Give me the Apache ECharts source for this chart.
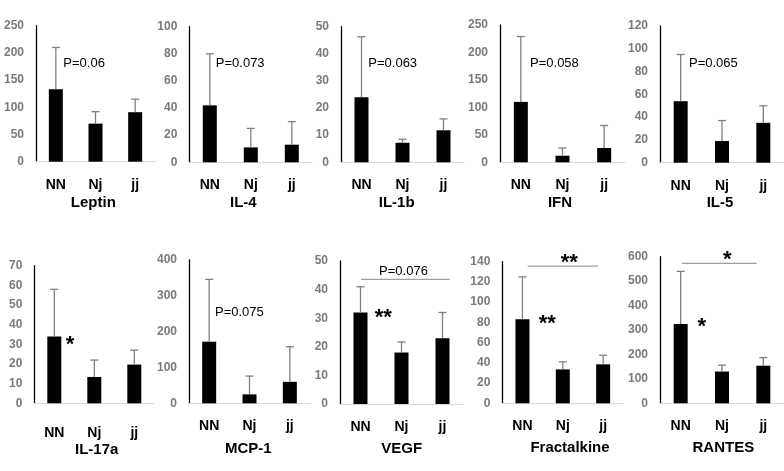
<!DOCTYPE html>
<html><head><meta charset="utf-8">
<script src="https://cdn.jsdelivr.net/npm/echarts@6/dist/echarts.min.js"></script>
<style>html,body{margin:0;padding:0;background:#fff}#c{width:784px;height:471px}</style>
</head><body><div id="c"></div>
<script>
// ---------- data ----------
const categories = ['NN', 'Nj', 'jj'];
const panelTitles = ['Leptin', 'IL-4', 'IL-1b', 'IFN', 'IL-5', 'IL-17a', 'MCP-1', 'VEGF', 'Fractalkine', 'RANTES'];
const leptinMean = [133, 70, 91],      leptinUpper = [210, 92, 115];
const il4Mean = [42, 11, 13],          il4Upper = [80, 25, 30];
const il1bMean = [24, 7.2, 11.8],      il1bUpper = [46.3, 8.5, 16];
const ifnMean = [110, 12, 26],         ifnUpper = [229, 26, 67];
const il5Mean = [54, 19, 35],          il5Upper = [95, 37, 50];
const il17aMean = [34, 13.4, 19.7],    il17aUpper = [58, 22, 27];
const mcp1Mean = [172, 25, 60],        mcp1Upper = [346, 76, 158];
const vegfMean = [32, 18, 23],         vegfUpper = [41, 21.7, 32];
const fractalkineMean = [83, 33.5, 38.5], fractalkineUpper = [125, 41, 47.5];
const rantesMean = [325, 130, 154],    rantesUpper = [540, 156, 187];
const yMax = [250, 100, 50, 250, 120, 70, 400, 50, 140, 600];
const yStep = [50, 20, 10, 50, 20, 10, 100, 10, 20, 100];
const noteTexts = ['P=0.06', 'P=0.073', 'P=0.063', 'P=0.058', 'P=0.065', '*', 'P=0.075', '**', '**', '*'];
const noteValues = [181, 73, 36.5, 180, 87, 32, 253, 31.7, 83, 334];
const bracketPanels = [7, 8, 9];
const bracketValues = [43.6, 135.7, 573];
const bracketTexts = ['P=0.076', '**', '*'];

const means = [leptinMean, il4Mean, il1bMean, ifnMean, il5Mean, il17aMean, mcp1Mean, vegfMean, fractalkineMean, rantesMean];
const uppers = [leptinUpper, il4Upper, il1bUpper, ifnUpper, il5Upper, il17aUpper, mcp1Upper, vegfUpper, fractalkineUpper, rantesUpper];

// ---------- layout / style ----------
const FONT = '"Liberation Sans", Arial, sans-serif';
const gridBox = [
  [36, 25.7, 119, 136], [189.3, 26.7, 123, 135.6], [341, 26.7, 123, 135.6], [500, 25, 125, 137.3], [660, 26, 124, 136.7],
  [34.3, 265.7, 120, 137.6], [189, 260, 121, 143.3], [340, 261, 123, 143], [502.3, 261.7, 121, 141.6], [660, 256.7, 124, 146.6]
];
const labelMargin = [16, 16, 16, 16, 16, 23, 16, 16, 16, 16];
const titlePos = [[93.3, 203], [243.3, 203], [396.7, 203], [560, 203], [720, 203],
                  [96.7, 450], [248.3, 449.3], [401.7, 449.3], [570, 448.3], [723.3, 448.3]];
const noteDx = [7.5, 6, 6.8, 9.2, 8.3, 15.7, 5.8, 22.8, 24.8, 21];
const bracketEnds = [[0.5, 7], [5.2, -4.8], [1, -6.6]];
const bracketTextDx = [2, 6.5, 5.3];
const STAR_SHIFT = 5;
const STAR_FONT = 'bold 22px ' + FONT;

const grids = [], xAxes = [], yAxes = [], series = [], graphics = [];
for (let i = 0; i < 10; i++) {
  const g = gridBox[i];
  grids.push({ left: g[0], top: g[1], width: g[2], height: g[3] });
  xAxes.push({
    type: 'category', gridIndex: i, data: categories,
    axisLine: { show: true, lineStyle: { color: '#d9d9d9', width: 1 } },
    axisTick: { show: false },
    axisLabel: { margin: labelMargin[i], color: '#000', fontWeight: 'bold', fontSize: 14, fontFamily: FONT }
  });
  yAxes.push({
    type: 'value', gridIndex: i, min: 0, max: yMax[i], interval: yStep[i],
    axisLine: { show: true, onZero: false, lineStyle: { color: '#000', width: 1.3 } },
    axisTick: { show: false }, splitLine: { show: false },
    axisLabel: { margin: 12, color: '#7a7a7a', fontWeight: 'bold', fontSize: 12, fontFamily: FONT }
  });
  series.push({
    type: 'bar', xAxisIndex: i, yAxisIndex: i, data: means[i], barWidth: 14,
    itemStyle: { color: '#000' }, silent: true, z: 2
  });
  series.push({
    type: 'custom', xAxisIndex: i, yAxisIndex: i, z: 3, silent: true,
    data: uppers[i].map((u, k) => [k, u, means[i][k]]),
    renderItem: function (params, api) {
      const top = api.coord([api.value(0), api.value(1)]);
      const bot = api.coord([api.value(0), api.value(2)]);
      const st = { stroke: '#808080', lineWidth: 1.3 };
      return { type: 'group', children: [
        { type: 'line', shape: { x1: top[0], y1: top[1], x2: bot[0], y2: bot[1] }, style: st },
        { type: 'line', shape: { x1: top[0] - 4, y1: top[1], x2: top[0] + 4, y2: top[1] }, style: st }
      ] };
    }
  });
  const isStar = noteTexts[i].indexOf('*') >= 0;
  series.push({
    type: 'custom', xAxisIndex: i, yAxisIndex: i, z: 4, silent: true,
    data: [[0, noteValues[i]]],
    renderItem: (function (idx, star) {
      return function (params, api) {
        const p = api.coord([api.value(0), api.value(1)]);
        return { type: 'text', x: p[0] + noteDx[idx], y: p[1] + (star ? STAR_SHIFT : 0), style: {
          text: noteTexts[idx], fill: '#000',
          font: star ? STAR_FONT : '13px ' + FONT,
          align: star ? 'center' : 'left', textAlign: star ? 'center' : 'left',
          verticalAlign: 'middle', textVerticalAlign: 'middle'
        } };
      };
    })(i, isStar)
  });
  graphics.push({ type: 'text', x: titlePos[i][0], y: titlePos[i][1], silent: true, style: {
    text: panelTitles[i], fill: '#000', font: 'bold 15px ' + FONT,
    align: 'center', textAlign: 'center', verticalAlign: 'middle', textVerticalAlign: 'middle' } });
}
bracketPanels.forEach(function (pi, b) {
  const star = bracketTexts[b].indexOf('*') >= 0;
  series.push({
    type: 'custom', xAxisIndex: pi, yAxisIndex: pi, z: 4, silent: true,
    data: [[0, bracketValues[b], 2]],
    renderItem: function (params, api) {
      const a = api.coord([api.value(0), api.value(1)]);
      const c = api.coord([api.value(2), api.value(1)]);
      const mid = (a[0] + c[0]) / 2 + bracketTextDx[b];
      return { type: 'group', children: [
        { type: 'line', shape: { x1: a[0] + bracketEnds[b][0], y1: a[1], x2: c[0] + bracketEnds[b][1], y2: a[1] },
          style: { stroke: '#a0a0a0', lineWidth: 1.3 } },
        { type: 'text', x: mid, y: a[1] - 8 + (star ? STAR_SHIFT : 0), style: {
          text: bracketTexts[b], fill: '#000', font: star ? STAR_FONT : '13px ' + FONT,
          align: 'center', textAlign: 'center', verticalAlign: 'middle', textVerticalAlign: 'middle' } }
      ] };
    }
  });
});

const chart = echarts.init(document.getElementById('c'), null, { renderer: 'canvas' });
chart.setOption({
  animation: false, backgroundColor: '#fff',
  grid: grids, xAxis: xAxes, yAxis: yAxes, series: series, graphic: graphics
});
</script></body></html>
